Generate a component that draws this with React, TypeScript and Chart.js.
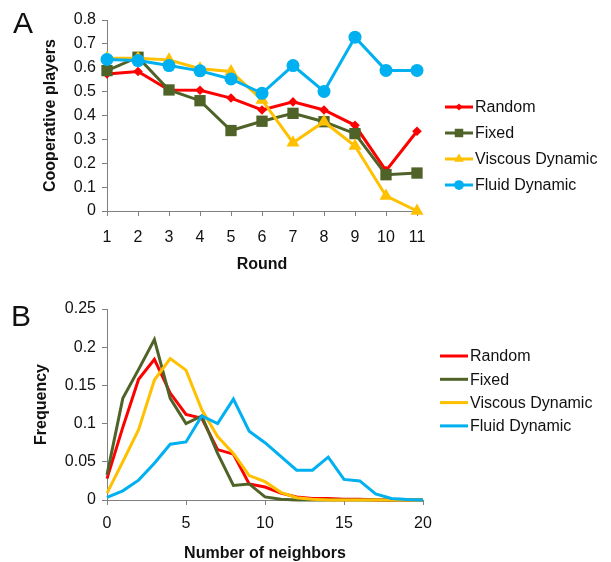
import React, { useEffect, useRef } from "react";
import { Chart, registerables } from "chart.js";

Chart.register(...registerables);

// ---------- Panel A data ----------
const rounds = [1, 2, 3, 4, 5, 6, 7, 8, 9, 10, 11];
const randomA = [0.574, 0.584, 0.507, 0.506, 0.473, 0.423, 0.457, 0.423, 0.359, 0.169, 0.334];
const fixedA = [0.588, 0.644, 0.507, 0.462, 0.337, 0.376, 0.409, 0.374, 0.324, 0.152, 0.159];
const viscousA = [0.640, 0.640, 0.633, 0.596, 0.584, 0.465, 0.286, 0.374, 0.272, 0.063, 0.0];
const fluidA = [0.635, 0.630, 0.609, 0.587, 0.553, 0.493, 0.609, 0.501, 0.728, 0.589, 0.589];

// ---------- Panel B data ----------
const neighbors = [0, 1, 2, 3, 4, 5, 6, 7, 8, 9, 10, 11, 12, 13, 14, 15, 16, 17, 18, 19, 20];
const randomB = [0.028, 0.095, 0.158, 0.184, 0.140, 0.112, 0.107, 0.066, 0.060, 0.021, 0.017, 0.009, 0.004, 0.002, 0.002, 0.001, 0.001, 0, 0, 0, 0];
const fixedB = [0.033, 0.133, 0.171, 0.210, 0.133, 0.100, 0.110, 0.061, 0.019, 0.021, 0.004, 0.001, 0, 0, 0, 0, 0, 0, 0, 0, 0];
const viscousB = [0.009, 0.050, 0.092, 0.157, 0.185, 0.170, 0.118, 0.083, 0.061, 0.032, 0.024, 0.010, 0.003, 0.001, 0, 0, 0, 0, 0, 0, 0];
const fluidB = [0.0035, 0.012, 0.026, 0.048, 0.073, 0.076, 0.110, 0.100, 0.132, 0.090, 0.075, 0.057, 0.039, 0.039, 0.056, 0.027, 0.025, 0.008, 0.002, 0.0005, 0];

const seriesNames = ["Random", "Fixed", "Viscous Dynamic", "Fluid Dynamic"];
const seriesColors = ["#FF0000", "#4F6228", "#FFC000", "#00B0F0"];
const seriesMarkers = ["rectRot", "rect", "triangle", "circle"];
const markerRadius = [4.8, 8, 7.5, 6.5];

const yTicksA = { min: 0, max: 0.8, step: 0.1 };
const yTicksB = { min: 0, max: 0.25, step: 0.05 };
const xTicksB = { min: 0, max: 20, step: 5 };

const FONT = '"Liberation Sans", Arial, sans-serif';
const AXIS_GRAY = "#808080";

function drawMarker(ctx: CanvasRenderingContext2D, style: string, x: number, y: number, r: number, color: string) {
  ctx.save();
  ctx.fillStyle = color;
  ctx.beginPath();
  if (style === "circle") {
    ctx.arc(x, y, r, 0, Math.PI * 2);
  } else if (style === "rect") {
    const s = r * Math.SQRT1_2;
    ctx.rect(x - s, y - s, 2 * s, 2 * s);
  } else if (style === "rectRot") {
    ctx.moveTo(x, y - r);
    ctx.lineTo(x + r, y);
    ctx.lineTo(x, y + r);
    ctx.lineTo(x - r, y);
    ctx.closePath();
  } else if (style === "triangle") {
    ctx.moveTo(x, y - r);
    ctx.lineTo(x + r * 0.866, y + r * 0.5);
    ctx.lineTo(x - r * 0.866, y + r * 0.5);
    ctx.closePath();
  }
  ctx.fill();
  ctx.restore();
}

const customLegend = {
  id: "customLegend",
  afterDraw(chart: any, _args: any, opts: any) {
    const ctx: CanvasRenderingContext2D = chart.ctx;
    const area = chart.chartArea;
    const x0 = area.right + opts.offsetX;
    ctx.save();
    chart.data.datasets.forEach((ds: any, i: number) => {
      const y = area.top + opts.offsetY + i * opts.spacing;
      ctx.strokeStyle = ds.borderColor;
      ctx.lineWidth = 3;
      ctx.beginPath();
      ctx.moveTo(x0, y);
      ctx.lineTo(x0 + 28, y);
      ctx.stroke();
      if (opts.markers) {
        drawMarker(ctx, seriesMarkers[i], x0 + 14, y, markerRadius[i] * 0.75, ds.borderColor);
      }
      ctx.fillStyle = "#111";
      ctx.font = `16px ${FONT}`;
      ctx.textBaseline = "middle";
      ctx.textAlign = "left";
      ctx.fillText(ds.label, x0 + 30, y + 1);
    });
    ctx.restore();
  },
};

const fmt = (v: any) => String(Number(Number(v).toFixed(2)));

function makeOptions(cfg: any) {
  return {
    responsive: false,
    animation: false,
    devicePixelRatio: 1,
    layout: { padding: cfg.padding },
    plugins: {
      legend: { display: false },
      tooltip: { enabled: false },
      customLegend: cfg.legend,
    },
    scales: {
      x: {
        type: "linear",
        min: cfg.xMin,
        max: cfg.xMax,
        ticks: {
          stepSize: cfg.xStep,
          color: "#111",
          font: { family: FONT, size: 16 },
          padding: cfg.xTickPad,
          maxRotation: 0,
          autoSkip: false,
          callback: (v: any) => fmt(v),
        },
        grid: { display: true, drawOnChartArea: false, drawTicks: true, tickLength: 5, color: AXIS_GRAY },
        border: { display: true, color: AXIS_GRAY, width: 1 },
        title: {
          display: true,
          text: cfg.xTitle,
          color: "#111",
          font: { family: FONT, size: 16, weight: "bold", lineHeight: cfg.xTitleLH },
          padding: { top: 0, bottom: cfg.xTitlePad },
        },
        afterFit: (s: any) => { s.height = cfg.xHeight; },
      },
      y: {
        type: "linear",
        min: cfg.yMin,
        max: cfg.yMax,
        ticks: {
          stepSize: cfg.yStep,
          color: "#111",
          font: { family: FONT, size: 16 },
          padding: 6,
          callback: (v: any) => fmt(v),
        },
        grid: { display: true, drawOnChartArea: false, drawTicks: true, tickLength: 5, color: AXIS_GRAY },
        border: { display: true, color: AXIS_GRAY, width: 1 },
        title: {
          display: true,
          text: cfg.yTitle,
          color: "#111",
          font: { family: FONT, size: 16, weight: "bold" },
          padding: { top: cfg.yTitlePad, bottom: 0 },
        },
        afterFit: (s: any) => { s.width = 107; },
      },
    },
  };
}

function ChartA() {
  const ref = useRef<HTMLCanvasElement | null>(null);
  useEffect(() => {
    const series = [randomA, fixedA, viscousA, fluidA];
    const chart = new Chart(ref.current as HTMLCanvasElement, {
      type: "line",
      data: {
        datasets: series.map((vals, i) => ({
          label: seriesNames[i],
          data: rounds.map((r, k) => ({ x: r, y: vals[k] })),
          borderColor: seriesColors[i],
          backgroundColor: seriesColors[i],
          borderWidth: 3,
          pointStyle: seriesMarkers[i],
          pointRadius: markerRadius[i],
          pointBorderWidth: 0,
          pointBackgroundColor: seriesColors[i],
          tension: 0,
          clip: false,
          order: 4 - i,
        })),
      },
      options: makeOptions({
        padding: { top: 20, right: 194, left: 0, bottom: 0 },
        xMin: 1, xMax: 11, xStep: 1, xTickPad: 12,
        xTitle: "Round", xTitlePad: 6, xTitleLH: 1.2, xHeight: 69,
        yMin: yTicksA.min, yMax: yTicksA.max, yStep: yTicksA.step,
        yTitle: "Cooperative players", yTitlePad: 41,
        legend: { offsetX: 28, offsetY: 87, spacing: 26, markers: true },
      }) as any,
      plugins: [customLegend],
    });
    return () => chart.destroy();
  }, []);
  return <canvas ref={ref} width={611} height={280} style={{ position: "absolute", left: 0, top: 0, width: 611, height: 280 }} />;
}

function ChartB() {
  const ref = useRef<HTMLCanvasElement | null>(null);
  useEffect(() => {
    const series = [randomB, fixedB, viscousB, fluidB];
    const chart = new Chart(ref.current as HTMLCanvasElement, {
      type: "line",
      data: {
        datasets: series.map((vals, i) => ({
          label: seriesNames[i],
          data: neighbors.map((n, k) => ({ x: n, y: vals[k] })),
          borderColor: seriesColors[i],
          backgroundColor: seriesColors[i],
          borderWidth: 3,
          pointRadius: 0,
          tension: 0,
          clip: false,
          order: 4 - i,
        })),
      },
      options: makeOptions({
        padding: { top: 29, right: 188, left: 0, bottom: 0 },
        xMin: xTicksB.min, xMax: xTicksB.max, xStep: xTicksB.step, xTickPad: 9,
        xTitle: "Number of neighbors", xTitlePad: 0, xTitleLH: 1.0, xHeight: 62,
        yMin: yTicksB.min, yMax: yTicksB.max, yStep: yTicksB.step,
        yTitle: "Frequency", yTitlePad: 32,
        legend: { offsetX: 17, offsetY: 47, spacing: 23.3, markers: false },
      }) as any,
      plugins: [customLegend],
    });
    return () => chart.destroy();
  }, []);
  return <canvas ref={ref} width={611} height={282} style={{ position: "absolute", left: 0, top: 280, width: 611, height: 282 }} />;
}

const panelLetter: React.CSSProperties = {
  position: "absolute",
  fontFamily: FONT,
  fontSize: 30,
  lineHeight: "30px",
  color: "#111",
};

export default function App() {
  return (
    <div style={{ position: "absolute", left: 0, top: 0, width: 611, height: 562, overflow: "hidden", background: "#fff" }}>
      <ChartA />
      <ChartB />
      <div style={{ ...panelLetter, left: 13, top: 8 }}>A</div>
      <div style={{ ...panelLetter, left: 11, top: 301 }}>B</div>
    </div>
  );
}
